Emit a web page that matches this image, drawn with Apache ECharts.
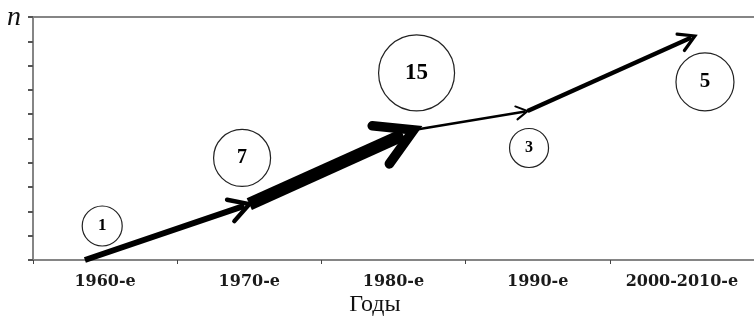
<!DOCTYPE html>
<html>
<head>
<meta charset="utf-8">
<script src="https://cdn.jsdelivr.net/npm/echarts@6/dist/echarts.min.js"></script>
<style>
  html, body { margin: 0; padding: 0; background: #fff; }
  #app { width: 754px; height: 318px; }
</style>
</head>
<body>
<div id="app"></div>
<script>
// данные
var decades = ['1960-е', '1970-е', '1980-е', '1990-е', '2000-2010-е'];
var counts = [1, 7, 15, 3, 5];
// узлы стрелки (x в долях категории, y в делениях оси n)
var pathX = [0.36, 1.50, 2.64, 3.43, 4.59];
var pathY = [0, 2.30, 5.35, 6.13, 9.22];
// центры кружков с числами
var bubbleX = [0.48, 1.45, 2.66, 3.44, 4.66];
var bubbleY = [1.40, 4.20, 7.70, 4.61, 7.33];

// оформление
var bubbleSize = [40, 57, 76, 39, 58];
var bubbleFont = [17, 20, 23, 16, 21];
var axisColor = '#858585';

var segments = [];
for (var i = 0; i < pathX.length - 1; i++) {
    // толщина стрелки по числу в следующем десятилетии
    segments.push([pathX[i], pathY[i], pathX[i + 1], pathY[i + 1], counts[i + 1] * 0.85]);
}

var bubbles = [];
for (var j = 0; j < counts.length; j++) {
    bubbles.push({
        value: [bubbleX[j], bubbleY[j], counts[j]],
        symbolSize: bubbleSize[j],
        label: { fontSize: bubbleFont[j] }
    });
}

function renderArrow(params, api) {
    var p0 = api.coord([api.value(0), api.value(1)]);
    var p1 = api.coord([api.value(2), api.value(3)]);
    var lw = api.value(4);
    var ang = Math.atan2(p0[1] - p1[1], p0[0] - p1[0]);
    var arm = 6 + 2.8 * lw;
    var spread = Math.PI / 6;
    var a1 = [p1[0] + arm * Math.cos(ang + spread), p1[1] + arm * Math.sin(ang + spread)];
    var a2 = [p1[0] + arm * Math.cos(ang - spread), p1[1] + arm * Math.sin(ang - spread)];
    // стержень чуть не доходит до острия
    var back = lw * 0.9;
    var end = [p1[0] + back * Math.cos(ang), p1[1] + back * Math.sin(ang)];
    return {
        type: 'group',
        children: [
            {
                type: 'line',
                shape: { x1: p0[0], y1: p0[1], x2: end[0], y2: end[1] },
                style: { stroke: '#000', lineWidth: lw, lineCap: 'butt' }
            },
            {
                type: 'polyline',
                shape: { points: [a1, p1, a2] },
                style: { stroke: '#000', fill: null, lineWidth: Math.max(2, lw * 0.75), lineCap: 'round', lineJoin: 'miter' }
            }
        ]
    };
}

var chart = echarts.init(document.getElementById('app'));

var option = {
    animation: false,
    grid: { left: 33, top: 17, width: 730, height: 243 },
    xAxis: [
        {
            type: 'category',
            data: decades,
            position: 'bottom',
            boundaryGap: true,
            axisLine: { lineStyle: { color: axisColor, width: 2 } },
            axisTick: { show: true, interval: 0, length: 4, lineStyle: { color: '#444', width: 1 } },
            axisLabel: {
                interval: 0,
                margin: 14,
                fontFamily: 'DejaVu Serif',
                fontWeight: 'bold',
                fontSize: 16,
                color: '#1a1a1a'
            },
            splitLine: { show: false }
        },
        {
            type: 'value',
            min: 0,
            max: 5,
            position: 'top',
            axisLine: { show: true, onZero: false, lineStyle: { color: axisColor, width: 2 } },
            axisTick: { show: false },
            axisLabel: { show: false },
            splitLine: { show: false }
        }
    ],
    yAxis: {
        type: 'value',
        min: 0,
        max: 10,
        interval: 1,
        axisLine: { show: true, lineStyle: { color: axisColor, width: 2 } },
        axisTick: { show: true, length: 5, lineStyle: { color: '#555', width: 2 } },
        axisLabel: { show: false },
        splitLine: { show: false }
    },
    graphic: [
        {
            type: 'text',
            left: 7,
            top: 4,
            style: { text: 'n', font: 'italic 28px "Liberation Serif"', fill: '#111' }
        },
        {
            type: 'text',
            x: 375,
            y: 305,
            style: {
                text: 'Годы',
                font: '24px "Liberation Serif"',
                fill: '#111',
                align: 'center',
                verticalAlign: 'middle'
            }
        }
    ],
    series: [
        {
            type: 'custom',
            xAxisIndex: 1,
            renderItem: renderArrow,
            data: segments,
            z: 3
        },
        {
            type: 'scatter',
            xAxisIndex: 1,
            symbol: 'circle',
            data: bubbles,
            itemStyle: { color: 'rgba(255,255,255,0)', borderColor: '#222', borderWidth: 1.2, opacity: 1 },
            label: {
                show: true,
                position: 'inside',
                formatter: function (p) { return p.value[2]; },
                fontFamily: 'Liberation Serif',
                fontWeight: 'bold',
                color: '#000',
                textBorderWidth: 0
            },
            emphasis: { disabled: true },
            z: 4
        }
    ]
};

chart.setOption(option);
</script>
</body>
</html>
